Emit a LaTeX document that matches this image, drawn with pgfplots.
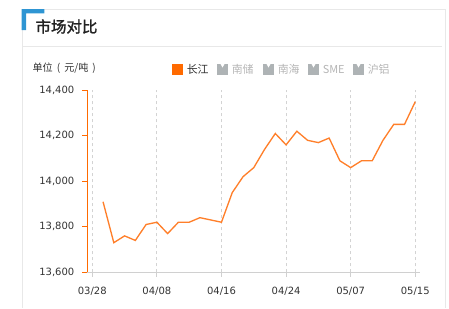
\documentclass[border=0pt]{standalone}
\usepackage{pgfplots}
\pgfplotsset{compat=1.18}
\usepackage{fontspec}
\setmainfont{DejaVu Sans}
\newfontfamily\cjk{Noto Sans CJK SC}
\newfontfamily\cjkbold{Noto Sans CJK SC}[FakeBold=1.5]

\definecolor{cardline}{HTML}{E8E8E8}
\definecolor{accent}{HTML}{2E95D3}
\definecolor{titletext}{HTML}{222222}
\definecolor{bodytext}{HTML}{333333}
\definecolor{orangeaxis}{HTML}{FF6A00}
\definecolor{seriesline}{HTML}{FF7F2A}
\definecolor{legendoff}{HTML}{AEB3B5}
\definecolor{legendofftext}{HTML}{B5B5B5}
\definecolor{gridgray}{HTML}{D3D3D3}
\definecolor{xaxisgray}{HTML}{D0D0D0}

% price series (yuan per tonne), trading-day index
\pgfplotstableread{
idx price
1  13910
2  13730
3  13760
4  13740
5  13810
6  13820
7  13770
8  13820
9  13820
10 13840
11 13830
12 13820
13 13950
14 14020
15 14060
16 14140
17 14210
18 14160
19 14220
20 14180
21 14170
22 14190
23 14090
24 14060
25 14090
26 14090
27 14180
28 14250
29 14250
30 14350
}\pricetable

\begin{document}
\begin{tikzpicture}
% page area in px units (1px = 0.75pt), origin at top-left
\begin{scope}[x=0.75pt,y=-0.75pt]
  \useasboundingbox (0,0) rectangle (449,308);
  % card frame
  \draw[cardline,line width=0.75pt] (22.5,308) -- (22.5,9.5) -- (445.7,9.5) -- (445.7,308);
  \draw[cardline,line width=0.75pt] (22.5,46) -- (441.7,46);
  % corner accent
  \fill[accent] (21.7,9.0) -- (44.3,9.0) -- (44.3,13.4) -- (26.1,13.4) -- (26.1,30) -- (21.7,30) -- cycle;
  % heading
  \node[anchor=west,inner sep=0,text=titletext,font=\cjkbold\fontsize{11.6}{12}\selectfont] at (35.3,26.5) {市场对比};
  % unit caption
  \node[anchor=west,inner sep=0,text=bodytext,font=\cjk\fontsize{7.6}{8}\selectfont] at (32.3,68) {单位\hspace{3pt}(\hspace{3pt}元/吨\hspace{3pt})};
  % legend
  \fill[orangeaxis] (172,64) rectangle (183,75);
  \node[anchor=west,inner sep=0,text=bodytext,font=\cjk\fontsize{8.2}{9}\selectfont] at (186.5,69.8) {长江};
  \foreach \ix/\lbl in {217/南储,263/南海,308/SME,353/沪铝}{
    \fill[legendoff] (\ix,64) rectangle ({\ix+11},75);
    \fill[white] ({\ix+3.5},64) -- ({\ix+7.5},64) -- ({\ix+5.5},67.5) -- cycle;
    \node[anchor=west,inner sep=0,text=legendofftext,font=\cjk\fontsize{8.2}{9}\selectfont] at ({\ix+14.5},69.8) {\lbl};
  }
\end{scope}

\begin{axis}[
  at={(65.25pt,-204.2pt)}, anchor=south west,
  scale only axis, width=249.75pt, height=136.5pt,
  xmin=-0.49, xmax=30.44, ymin=13600, ymax=14400,
  axis x line*=bottom, axis y line*=left,
  x axis line style={draw=xaxisgray,line width=0.75pt,-},
  y axis line style={draw=orangeaxis,line width=0.75pt,-},
  xtick={0,6,12,18,24,30},
  xticklabels={03/28,04/08,04/16,04/24,05/07,05/15},
  ytick={13600,13800,14000,14200,14400},
  scaled y ticks=false,
  yticklabel={\pgfmathprintnumber[assume math mode=true,fixed,precision=0,1000 sep={,}]{\tick}},
  tick align=outside,
  major tick length=3.5pt,
  x tick style={draw=xaxisgray,line width=0.75pt},
  y tick style={draw=orangeaxis,line width=0.75pt},
  xmajorgrids, ymajorgrids=false,
  major grid style={draw=gridgray,dash pattern=on 2.25pt off 2.25pt,line width=0.6pt},
  /pgf/number format/assume math mode=true,
  tick label style={font=\fontsize{7.5}{9}\selectfont,text=bodytext},
  yticklabel style={xshift=-2.5pt},
  xticklabel style={yshift=-4pt},
  clip=false,
]
\addplot[seriesline,line width=1pt,mark=none] table[x=idx,y=price] {\pricetable};
\end{axis}
\end{tikzpicture}
\end{document}
